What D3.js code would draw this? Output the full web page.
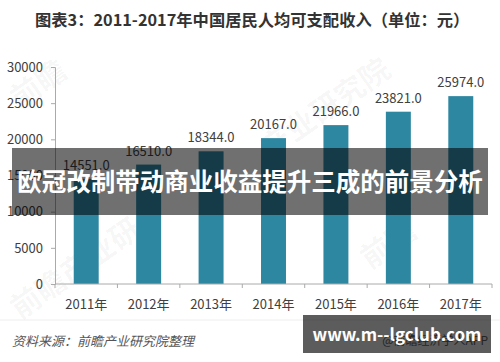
<!DOCTYPE html>
<html>
<head>
<meta charset="utf-8">
<script src="https://cdn.jsdelivr.net/npm/d3@7/dist/d3.min.js"></script>
<style>
  body { margin: 0; background: #fff; }
  text { font-family: "Noto Sans CJK SC", "Noto Sans", sans-serif; }
</style>
</head>
<body>
<div id="chart"></div>
<script>
var years = ["2011年", "2012年", "2013年", "2014年", "2015年", "2016年", "2017年"];
var income = [14551.0, 16510.0, 18344.0, 20167.0, 21966.0, 23821.0, 25974.0];
var yTicks = [0, 5000, 10000, 15000, 20000, 25000, 30000];

var W = 500, H = 362;
var margin = {top: 67, right: 8, bottom: 78, left: 55};
var width = W - margin.left - margin.right,
    height = H - margin.top - margin.bottom;

var svg = d3.select("#chart").append("svg")
    .attr("width", W)
    .attr("height", H);

// title
svg.append("text")
    .attr("x", 35).attr("y", 26)
    .attr("font-size", 16.3).attr("font-weight", "bold")
    .attr("fill", "#333")
    .text("图表3：2011-2017年中国居民人均可支配收入（单位：元）");

// faint watermarks
var wm = svg.append("g").attr("fill", "#000").attr("fill-opacity", 0.04)
    .attr("font-size", 30).attr("font-weight", "bold");
wm.append("text").attr("transform", "translate(20,110) rotate(-35)").text("前瞻");
wm.append("text").attr("transform", "translate(270,160) rotate(-35)").text("产业研究院");
wm.append("text").attr("transform", "translate(20,320) rotate(-35)").text("前瞻产业研");
wm.append("text").attr("transform", "translate(370,270) rotate(-35)").text("前瞻");

var x = d3.scaleBand().domain(years).range([0, width]).paddingInner(0.6).paddingOuter(0.3);
var y = d3.scaleLinear().domain([0, 30000]).range([height, 0]);

var g = svg.append("g")
    .attr("transform", "translate(" + margin.left + "," + margin.top + ")");

g.selectAll(".bar")
    .data(income)
    .enter().append("rect")
    .attr("class", "bar")
    .attr("x", function (d, i) { return x(years[i]); })
    .attr("y", function (d) { return y(d); })
    .attr("width", x.bandwidth())
    .attr("height", function (d) { return height - y(d); })
    .attr("fill", "#2e87a1");

g.selectAll(".val")
    .data(income)
    .enter().append("text")
    .attr("class", "val")
    .attr("x", function (d, i) { return x(years[i]) + x.bandwidth() / 2; })
    .attr("y", function (d) { return y(d) - 9; })
    .attr("text-anchor", "middle")
    .attr("font-size", 13)
    .attr("fill", "#404040")
    .text(function (d) { return d.toFixed(1); });

// y axis
var yAxis = g.append("g")
    .call(d3.axisLeft(y).tickValues(yTicks).tickSize(4).tickPadding(8).tickFormat(d3.format("d")));
yAxis.select(".domain").attr("stroke", "#aaa");
yAxis.selectAll(".tick line").attr("stroke", "#aaa");
yAxis.selectAll("text").attr("font-size", 13).attr("fill", "#404040");

// x axis with ticks at category boundaries
var xAxis = g.append("g").attr("transform", "translate(0," + height + ")");
xAxis.append("line").attr("x1", 0).attr("x2", width).attr("stroke", "#aaa");
xAxis.selectAll(".bt")
    .data(d3.range(years.length + 1))
    .enter().append("line")
    .attr("x1", function (i) { return i * x.step(); })
    .attr("x2", function (i) { return i * x.step(); })
    .attr("y1", 0).attr("y2", 4)
    .attr("stroke", "#aaa");
xAxis.selectAll(".lab")
    .data(years)
    .enter().append("text")
    .attr("x", function (d) { return x(d) + x.bandwidth() / 2; })
    .attr("y", 25)
    .attr("text-anchor", "middle")
    .attr("font-size", 13)
    .attr("fill", "#404040")
    .text(function (d) { return d; });

// faint divider
svg.append("line").attr("x1", 0).attr("x2", W).attr("y1", 320).attr("y2", 320)
    .attr("stroke", "#eee");

// source
svg.append("text")
    .attr("x", 12).attr("y", 346)
    .attr("font-size", 13).attr("font-style", "italic")
    .attr("fill", "#555")
    .text("资料来源：前瞻产业研究院整理");

svg.append("text")
    .attr("x", 488).attr("y", 345)
    .attr("text-anchor", "end")
    .attr("font-size", 12).attr("fill", "#666")
    .text("@前瞻经济学人APP");

// overlay band
svg.append("rect")
    .attr("x", 12).attr("y", 148).attr("width", 476).attr("height", 67)
    .attr("fill", "#000").attr("fill-opacity", 0.56);
svg.append("text")
    .attr("x", 250).attr("y", 191)
    .attr("text-anchor", "middle")
    .attr("font-size", 24.5).attr("font-weight", "bold")
    .attr("fill", "#fff")
    .text("欧冠改制带动商业收益提升三成的前景分析");

// bottom right box
svg.append("rect")
    .attr("x", 303).attr("y", 315).attr("width", 188).attr("height", 38)
    .attr("fill", "#000").attr("fill-opacity", 0.64);
svg.append("text")
    .attr("x", 397).attr("y", 341)
    .attr("text-anchor", "middle")
    .attr("font-size", 17).attr("font-weight", "bold")
    .attr("fill", "#fff")
    .text("www.m--lgclub.com");
</script>
</body>
</html>
